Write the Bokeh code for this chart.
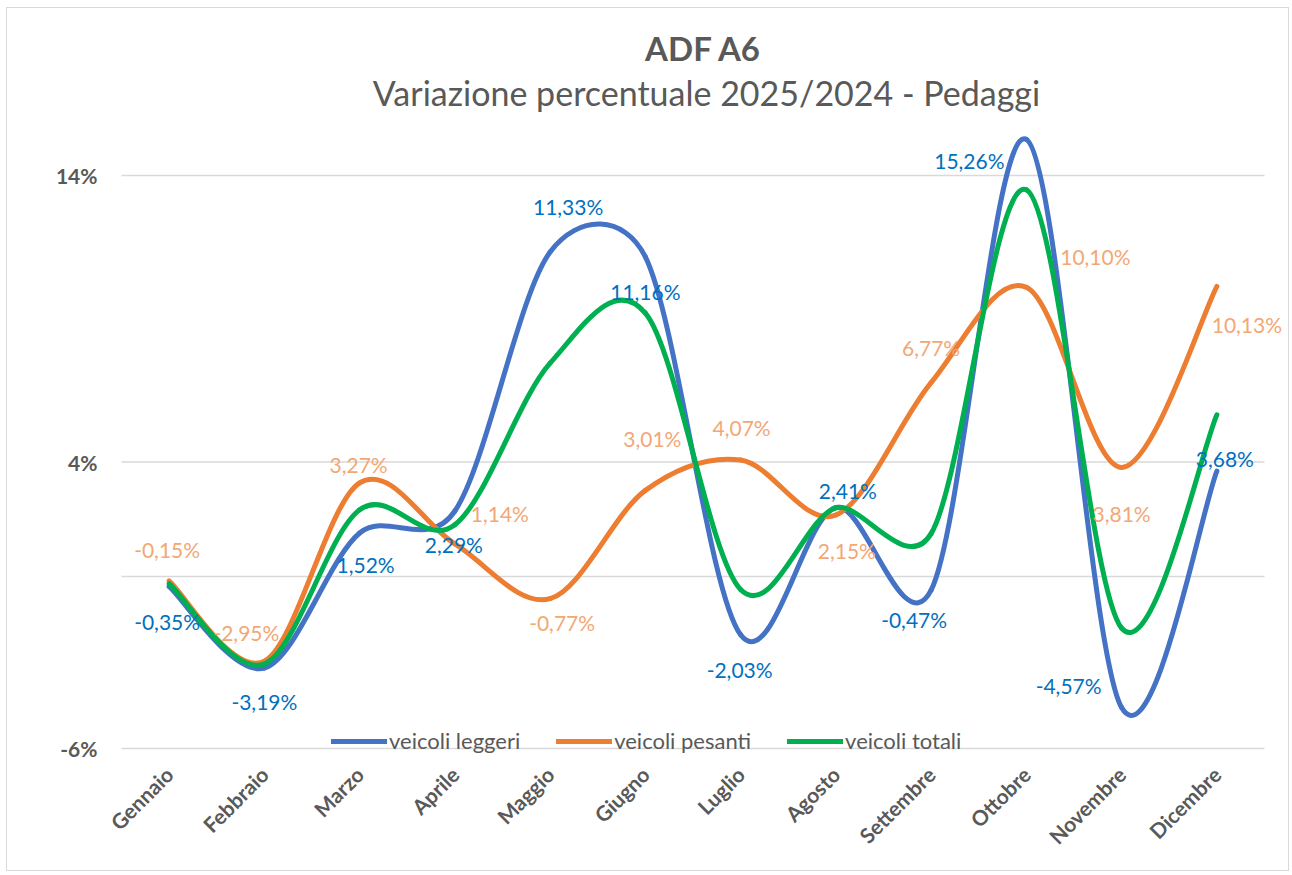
import numpy as np
from bokeh.plotting import figure
from bokeh.core.properties import value
from bokeh.models import (Range1d, FixedTicker, Label, LabelSet, ColumnDataSource,
                          Legend, LegendItem)
from bokeh.embed import file_html
from bokeh.resources import INLINE

# ---------------- data ----------------
months = ["Gennaio", "Febbraio", "Marzo", "Aprile", "Maggio", "Giugno",
          "Luglio", "Agosto", "Settembre", "Ottobre", "Novembre", "Dicembre"]
leggeri = [-0.35, -3.19, 1.52, 2.29, 11.33, 11.16, -2.03, 2.41, -0.47, 15.26, -4.57, 3.68]
pesanti = [-0.15, -2.95, 3.27, 1.14, -0.77, 3.01, 4.07, 2.15, 6.77, 10.10, 3.81, 10.13]
totali = [-0.25, -3.05, 2.33, 1.81, 7.45, 9.20, -0.45, 2.40, 1.50, 13.50, -1.80, 5.65]
series_names = ["veicoli leggeri", "veicoli pesanti", "veicoli totali"]
y_tick_values = [-6, 4, 14]
y_tick_labels = ["-6%", "4%", "14%"]
grid_values = [-6, 0, 4, 14]
title_text = "ADF A6"
subtitle_text = "Variazione percentuale 2025/2024 - Pedaggi"

# label placement (screen px offsets of label centre from its point; +dy = down)
leggeri_lbl_dx = [-2, 0, 6, -1, 18, 0, -1, 12, -17, -57, -53, 8]
leggeri_lbl_dy = [35, 34, 31, 34, -45, 35, 35, -17, 29, 21, -22, -13]
pesanti_lbl_dx = [-2, -18, -1, 45, 12, 7, 1, 11, 0, 69, 0, 30]
pesanti_lbl_dy = [-31, -29, -18, -30, 24, -52, -32, 35, -35, -31, 46, 38]

# ---------------- layout (page pixels) ----------------
OX, OY = 6, 7                  # figure's top-left on the page
W, H = 1283, 864
FRAME_L, FRAME_R, FRAME_T, FRAME_B = 100, 1286, 12, 760
CAT_L, CAT_W = 120.0, 95.25    # category band start / width
Y14_PX, PX_PER_PCT = 174.0, 28.65

SX = CAT_W
SY = PX_PER_PCT
x_start = -(CAT_L - FRAME_L) / SX
x_end = x_start + (FRAME_R - FRAME_L) / SX
y_end = 14 + (Y14_PX - FRAME_T) / SY
y_start = y_end - (FRAME_B - FRAME_T) / SY


def px_to_x(px):
    return x_start + (px - FRAME_L) / SX


def px_to_y(py):
    return y_end - (py - FRAME_T) / SY


GRAY = "#595959"
GRID = "#d9d9d9"
FONT = "Lato"
line_colors = ["#4472C4", "#ED7D31", "#00B050"]
label_colors = ["#0070C0", "#F3A775"]

p = figure(width=W, height=H, output_backend="svg", toolbar_location=None,
           x_range=Range1d(x_start, x_end), y_range=Range1d(y_start, y_end),
           min_border_left=FRAME_L - OX, min_border_right=OX + W - FRAME_R,
           min_border_top=FRAME_T - OY, min_border_bottom=OY + H - FRAME_B,
           tools="")
p.outline_line_color = None
p.background_fill_color = "white"
p.border_fill_color = "white"
p.styles = {"border": "1px solid #d9d9d9", "margin-left": f"{OX}px",
            "margin-top": f"{OY}px"}

xs = [i + 0.5 for i in range(len(months))]

# axes
p.xaxis.ticker = FixedTicker(ticks=xs)
p.xaxis.major_label_overrides = {x: m for x, m in zip(xs, months)}
p.xaxis.major_label_orientation = np.pi / 4
p.xaxis.axis_line_color = None
p.xaxis.major_tick_line_color = None
p.xaxis.minor_tick_line_color = None
p.xaxis.major_tick_out = 0
p.xaxis.major_tick_in = 0
p.xaxis.major_label_standoff = 9
p.xaxis.major_label_text_font = FONT
p.xaxis.major_label_text_font_style = "bold"
p.xaxis.major_label_text_font_size = "21px"
p.xaxis.major_label_text_color = GRAY

p.yaxis.ticker = FixedTicker(ticks=y_tick_values)
p.yaxis.major_label_overrides = {v: t for v, t in zip(y_tick_values, y_tick_labels)}
p.yaxis.axis_line_color = None
p.yaxis.major_tick_line_color = None
p.yaxis.minor_tick_line_color = None
p.yaxis.major_tick_out = 0
p.yaxis.major_tick_in = 0
p.yaxis.major_label_standoff = 4
p.yaxis.major_label_text_font = FONT
p.yaxis.major_label_text_font_style = "bold"
p.yaxis.major_label_text_font_size = "21px"
p.yaxis.major_label_text_color = GRAY

p.xgrid.grid_line_color = None
p.ygrid.grid_line_color = None

# horizontal gridlines spanning the category area
p.segment(x0=[0] * len(grid_values), x1=[12] * len(grid_values),
          y0=grid_values, y1=grid_values, line_color=GRID, line_width=1.5)


# ---------------- smoothed lines (Excel-style Bezier) ----------------
def excel_controls(xv, yv):
    px = [x * SX for x in xv]
    py = [y * SY for y in yv]
    n = len(px)
    segs = []
    for i in range(n - 1):
        i0 = max(i - 1, 0)
        i3 = min(i + 2, n - 1)
        p0 = np.array([px[i0], py[i0]])
        p1 = np.array([px[i], py[i]])
        p2 = np.array([px[i + 1], py[i + 1]])
        p3 = np.array([px[i3], py[i3]])
        d02 = np.linalg.norm(p2 - p0)
        d12 = np.linalg.norm(p2 - p1)
        d13 = np.linalg.norm(p3 - p1)
        if d02 / 6 < d12 / 2 and d13 / 6 < d12 / 2:
            f1 = f2 = 1 / 6
        elif d02 / 6 >= d12 / 2 and d13 / 6 >= d12 / 2:
            f1 = d12 / 2 / d02
            f2 = d12 / 2 / d13
        elif d02 / 6 >= d12 / 2:
            f1 = f2 = d12 / 2 / d02
        else:
            f1 = f2 = d12 / 2 / d13
        b1 = p1 + (p2 - p0) * f1
        b2 = p2 - (p3 - p1) * f2
        segs.append((p1, b1, b2, p2))
    src = dict(
        x0=[s[0][0] / SX for s in segs], y0=[s[0][1] / SY for s in segs],
        cx0=[s[1][0] / SX for s in segs], cy0=[s[1][1] / SY for s in segs],
        cx1=[s[2][0] / SX for s in segs], cy1=[s[2][1] / SY for s in segs],
        x1=[s[3][0] / SX for s in segs], y1=[s[3][1] / SY for s in segs],
    )
    return ColumnDataSource(src)


legend_items = []
for vals, col, name in zip([leggeri, pesanti, totali], line_colors, series_names):
    src = excel_controls(xs, vals)
    r = p.bezier(x0="x0", y0="y0", x1="x1", y1="y1", cx0="cx0", cy0="cy0",
                 cx1="cx1", cy1="cy1", source=src, line_color=col, line_width=5,
                 line_cap="round")
    legend_items.append(LegendItem(label=name, renderers=[r], index=0))

legend = Legend(items=legend_items, orientation="horizontal",
                location=(330 - FRAME_L, 7),
                glyph_width=56, glyph_height=20, label_standoff=2, spacing=36,
                padding=0, margin=0, background_fill_alpha=0,
                border_line_color=None, label_text_font=FONT,
                label_text_font_size="22px", label_text_color=GRAY)
p.add_layout(legend, "center")


# ---------------- data labels ----------------
def fmt(v):
    return f"{v:.2f}".replace(".", ",") + "%"


for vals, dxs, dys, col in [(leggeri, leggeri_lbl_dx, leggeri_lbl_dy, label_colors[0]),
                            (pesanti, pesanti_lbl_dx, pesanti_lbl_dy, label_colors[1])]:
    lsrc = ColumnDataSource(dict(x=xs, y=vals, t=[fmt(v) for v in vals],
                                 dx=dxs, dy=[-d for d in dys]))
    p.add_layout(LabelSet(x="x", y="y", text="t", source=lsrc, x_offset="dx",
                          y_offset="dy", text_align="center", text_baseline="middle",
                          text_font=value(FONT), text_font_size=value("21px"),
                          text_color=value(col)))

# ---------------- titles ----------------
p.add_layout(Label(x=px_to_x(702), y=px_to_y(46), text=title_text,
                   text_align="center", text_baseline="alphabetic",
                   text_font=FONT, text_font_style="bold", text_font_size="33px",
                   text_color=GRAY))
p.add_layout(Label(x=px_to_x(705), y=px_to_y(91), text=subtitle_text,
                   text_align="center", text_baseline="alphabetic",
                   text_font=FONT, text_font_size="34px", text_color=GRAY))

open("out.html", "w").write(file_html(p, INLINE))
